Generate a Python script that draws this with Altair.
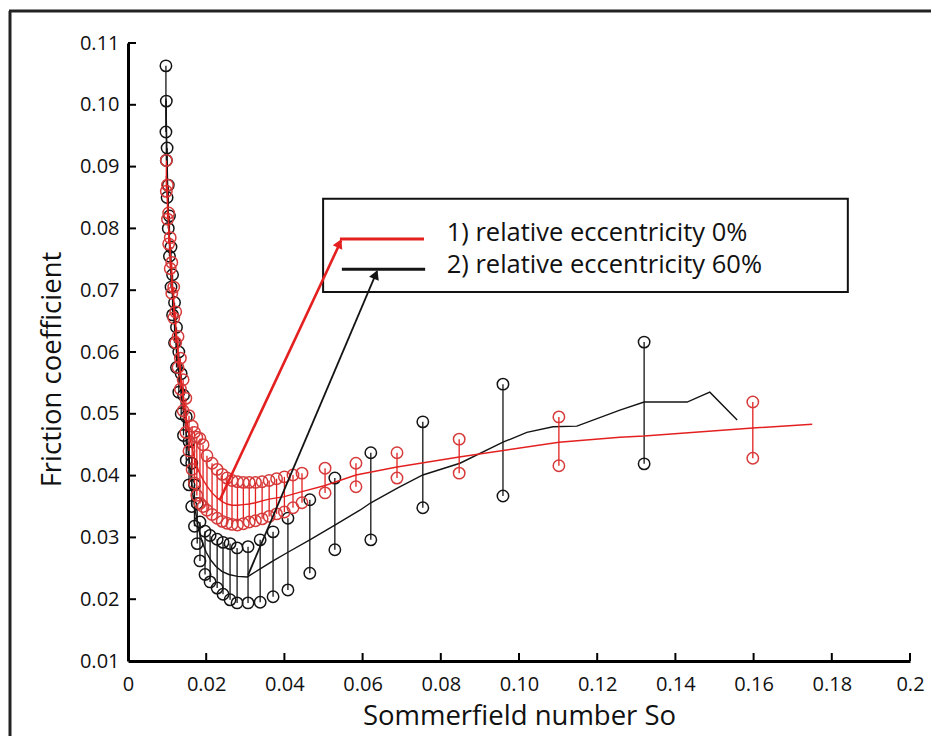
import altair as alt
import pandas as pd

# ---------------- data ----------------
# 60% eccentricity (black): error bars
b_x = [0.0097, 0.0098, 0.0100, 0.0103, 0.0106, 0.0110, 0.0114, 0.0119, 0.0124, 0.0130,
       0.0136, 0.0142, 0.0149, 0.0156, 0.0163, 0.0170, 0.0177, 0.0184, 0.0197, 0.0210,
       0.0228, 0.0243, 0.0261, 0.0279, 0.0307, 0.0338, 0.0371, 0.0409, 0.0465, 0.0529,
       0.0621, 0.0754, 0.0959, 0.1320]
b_lo = [0.0956, 0.0910, 0.0850, 0.0800, 0.0755, 0.0705, 0.0660, 0.0615, 0.0575, 0.0535,
        0.0500, 0.0465, 0.0425, 0.0385, 0.0350, 0.0318, 0.0290, 0.0262, 0.0240, 0.0228,
        0.0218, 0.0208, 0.0199, 0.0194, 0.0194, 0.0195, 0.0204, 0.0215, 0.0242, 0.0280,
        0.0296, 0.0348, 0.0367, 0.0419]
b_hi = [0.1063, 0.1006, 0.0930, 0.0870, 0.0820, 0.0770, 0.0725, 0.0680, 0.0640, 0.0600,
        0.0565, 0.0530, 0.0495, 0.0455, 0.0420, 0.0385, 0.0355, 0.0325, 0.0310, 0.0303,
        0.0297, 0.0292, 0.0290, 0.0283, 0.0285, 0.0296, 0.0309, 0.0331, 0.0361, 0.0396,
        0.0437, 0.0487, 0.0548, 0.0616]
# 60% eccentricity (black): mean curve
bl_x = [0.0097, 0.0099, 0.0101, 0.0103, 0.0106, 0.0109, 0.0113, 0.0117, 0.0122, 0.0127,
        0.0133, 0.0139, 0.0145, 0.0152, 0.0159, 0.0166, 0.0173, 0.0180, 0.0190, 0.0200,
        0.0212, 0.0225, 0.0240, 0.0258, 0.0280, 0.0305, 0.0338, 0.0371, 0.0409, 0.0465,
        0.0529, 0.0593, 0.0621, 0.0690, 0.0754, 0.0849, 0.0959, 0.1020, 0.1087, 0.1148,
        0.1258, 0.1320, 0.1430, 0.1488, 0.1558]
bl_y = [0.1010, 0.0940, 0.0880, 0.0830, 0.0780, 0.0740, 0.0700, 0.0660, 0.0620, 0.0580,
        0.0550, 0.0520, 0.0490, 0.0450, 0.0410, 0.0370, 0.0340, 0.0315, 0.0292, 0.0276,
        0.0263, 0.0253, 0.0245, 0.0240, 0.0237, 0.0236, 0.0249, 0.0262, 0.0276, 0.0296,
        0.0320, 0.0344, 0.0356, 0.0380, 0.0401, 0.0420, 0.0454, 0.0470, 0.0479, 0.0480,
        0.0506, 0.0519, 0.0519, 0.0535, 0.0490]

# 0% eccentricity (red): error bars
r_x = [0.0098, 0.0101, 0.0104, 0.0108, 0.0112, 0.0117, 0.0122, 0.0128, 0.0134, 0.0141,
       0.0148, 0.0156, 0.0164, 0.0170, 0.0176, 0.0184, 0.0192, 0.0202, 0.0215, 0.0228,
       0.0241, 0.0253, 0.0266, 0.0280, 0.0295, 0.0310, 0.0326, 0.0343, 0.0361, 0.0380,
       0.0400, 0.0422, 0.0445, 0.0504, 0.0583, 0.0688, 0.0847, 0.1102, 0.1598]
r_lo = [0.0860, 0.0815, 0.0775, 0.0735, 0.0695, 0.0655, 0.0615, 0.0575, 0.0540, 0.0505,
        0.0470, 0.0440, 0.0410, 0.0388, 0.0368, 0.0355, 0.0350, 0.0344, 0.0337, 0.0331,
        0.0326, 0.0323, 0.0321, 0.0320, 0.0322, 0.0325, 0.0327, 0.0330, 0.0334, 0.0338,
        0.0341, 0.0348, 0.0356, 0.0372, 0.0382, 0.0396, 0.0404, 0.0416, 0.0428]
r_hi = [0.0910, 0.0870, 0.0825, 0.0785, 0.0745, 0.0705, 0.0665, 0.0625, 0.0590, 0.0555,
        0.0525, 0.0497, 0.0480, 0.0470, 0.0462, 0.0460, 0.0450, 0.0432, 0.0420, 0.0410,
        0.0402, 0.0396, 0.0392, 0.0390, 0.0389, 0.0389, 0.0389, 0.0390, 0.0392, 0.0395,
        0.0398, 0.0401, 0.0404, 0.0412, 0.0420, 0.0437, 0.0459, 0.0495, 0.0519]
# 0% eccentricity (red): mean curve
rl_x = [0.0098, 0.0101, 0.0104, 0.0108, 0.0112, 0.0117, 0.0122, 0.0128, 0.0134, 0.0141,
        0.0148, 0.0156, 0.0164, 0.0170, 0.0176, 0.0184, 0.0192, 0.0202, 0.0215, 0.0228,
        0.0241, 0.0253, 0.0266, 0.0280, 0.0295, 0.0310, 0.0326, 0.0343, 0.0361, 0.0380,
        0.0400, 0.0422, 0.0445, 0.0504, 0.0583, 0.0688, 0.0847, 0.1102, 0.1258, 0.1320,
        0.1598, 0.1750]
rl_y = [0.0885, 0.0842, 0.0800, 0.0760, 0.0720, 0.0680, 0.0640, 0.0600, 0.0565, 0.0530,
        0.0498, 0.0468, 0.0445, 0.0428, 0.0414, 0.0403, 0.0393, 0.0383, 0.0372, 0.0364,
        0.0358, 0.0354, 0.0352, 0.0352, 0.0353, 0.0354, 0.0356, 0.0359, 0.0362, 0.0364,
        0.0366, 0.0370, 0.0374, 0.0384, 0.0401, 0.0414, 0.0430, 0.0454, 0.0462, 0.0464,
        0.0477, 0.0483]

x_ticks = [0, 0.02, 0.04, 0.06, 0.08, 0.10, 0.12, 0.14, 0.16, 0.18, 0.2]
x_tick_labels = ["0", "0.02", "0.04", "0.06", "0.08", "0.10", "0.12", "0.14", "0.16", "0.18", "0.2"]
y_ticks = [0.01, 0.02, 0.03, 0.04, 0.05, 0.06, 0.07, 0.08, 0.09, 0.10, 0.11]

legend_labels = ["1) relative eccentricity 0%", "2) relative eccentricity 60%"]
x_title = "Sommerfield number So"
y_title = "Friction coefficient"

# ---------------- styling ----------------
RED = "#e3201f"
RED_PT = "#d63a3a"
BLACK = "#141414"
FONT = "Open Sans"
W, H = 782, 618

xs = alt.Scale(domain=[0, 0.2], nice=False, zero=False)
ys = alt.Scale(domain=[0.01, 0.11], nice=False, zero=False)

label_expr = "[" + ",".join("'%s'" % s for s in x_tick_labels) + "][round(datum.value/0.02)]"

x_axis = alt.Axis(values=x_ticks, labelExpr=label_expr, title=x_title, grid=False,
                  ticks=False, domainWidth=3, domainColor="black", labelFont=FONT,
                  labelFontSize=20, labelColor="#111", labelPadding=13,
                  titleFont=FONT, titleFontSize=27.5, titleFontWeight="normal",
                  titleColor="#111", titlePadding=8, labelFlush=False)
y_axis = alt.Axis(values=y_ticks, format=".2f", title=y_title, grid=False,
                  ticks=False, domainWidth=3, domainColor="black", labelFont=FONT,
                  labelFontSize=20, labelColor="#111", labelPadding=9,
                  titleFont=FONT, titleFontSize=27.5, titleFontWeight="normal",
                  titleColor="#111", titlePadding=13, titleY=326, labelFlush=False)

bdf = pd.DataFrame({"x": b_x, "lo": b_lo, "hi": b_hi})
rdf = pd.DataFrame({"x": r_x, "lo": r_lo, "hi": r_hi})
bline = pd.DataFrame({"x": bl_x, "y": bl_y})
rline = pd.DataFrame({"x": rl_x, "y": rl_y})
bpts = pd.DataFrame({"x": b_x + b_x, "y": b_lo + b_hi})
rpts = pd.DataFrame({"x": r_x + r_x, "y": r_lo + r_hi})

def XF(f):
    return alt.X(f, type="quantitative", scale=xs, axis=x_axis)

def YF(f):
    return alt.Y(f, type="quantitative", scale=ys, axis=y_axis)

def XD(v):
    return alt.XDatum(v, type="quantitative", axis=x_axis)

def YD(v):
    return alt.YDatum(v, type="quantitative", axis=y_axis)

def bars(df, color):
    return alt.Chart(df).mark_rule(color=color, strokeWidth=1.3).encode(
        x=XF("x"), y=YF("lo"), y2="hi:Q")

def circles(df, color):
    return alt.Chart(df).mark_point(shape="circle", filled=False, color=color,
                                    size=130, strokeWidth=1.5, opacity=1).encode(
        x=XF("x"), y=YF("y"))

def curve(df, color, width):
    return alt.Chart(df).mark_line(color=color, strokeWidth=width).encode(
        x=XF("x"), y=YF("y"), order="x:Q")

# inward tick marks
xtick_df = pd.DataFrame({"x": x_ticks[1:]})
ytick_df = pd.DataFrame({"y": y_ticks[1:]})
xticks_layer = alt.Chart(xtick_df).mark_rule(color="black", strokeWidth=2).encode(
    x=XF("x"), y=alt.value(H), y2=alt.value(H - 8))
yticks_layer = alt.Chart(ytick_df).mark_rule(color="black", strokeWidth=2).encode(
    y=YF("y"), x=alt.value(0), x2=alt.value(8))

one = pd.DataFrame({"a": [0]})

# picture frame (left and top)
frame_left = alt.Chart(one).mark_rule(color="#222", strokeWidth=3).encode(
    x=alt.value(-118), y=alt.value(-32), y2=alt.value(700))
frame_top = alt.Chart(one).mark_rule(color="#222", strokeWidth=3).encode(
    x=alt.value(-119), x2=alt.value(W + 40), y=alt.value(-32))

# legend box
box = alt.Chart(one).mark_rect(fill="white", stroke="#111", strokeWidth=2).encode(
    x=XD(0.0499), x2=alt.datum(0.1841), y=YD(0.0848), y2=alt.datum(0.0697))
leg_red = alt.Chart(one).mark_rule(color=RED, strokeWidth=3).encode(
    x=XD(0.0542), x2=alt.datum(0.0757), y=YD(0.0783))
leg_black = alt.Chart(one).mark_rule(color=BLACK, strokeWidth=3).encode(
    x=XD(0.0547), x2=alt.datum(0.0760), y=YD(0.0734))
txt1 = alt.Chart(one).mark_text(text=legend_labels[0], align="left", baseline="middle",
                                font=FONT, fontSize=25.5, color="#111").encode(
    x=XD(0.0815), y=YD(0.0793))
txt2 = alt.Chart(one).mark_text(text=legend_labels[1], align="left", baseline="middle",
                                font=FONT, fontSize=25.5, color="#111").encode(
    x=XD(0.0815), y=YD(0.0740))

# arrows
arr_red = alt.Chart(one).mark_rule(color=RED, strokeWidth=2.6).encode(
    x=XD(0.0235), y=YD(0.0361), x2=alt.datum(0.0545), y2=alt.datum(0.0780))
arr_red_head = alt.Chart(one).mark_point(shape="triangle-up", filled=True, color=RED,
                                         size=110, angle=25, opacity=1).encode(
    x=XD(0.05407), y=YD(0.07757))
arr_blk = alt.Chart(one).mark_rule(color=BLACK, strokeWidth=1.8).encode(
    x=XD(0.0307), y=YD(0.0239), x2=alt.datum(0.0637), y2=alt.datum(0.0731))
arr_blk_head = alt.Chart(one).mark_point(shape="triangle-up", filled=True, color=BLACK,
                                         size=110, angle=23, opacity=1).encode(
    x=XD(0.06335), y=YD(0.07254))

chart = alt.layer(
    frame_left, frame_top,
    bars(bdf, BLACK), circles(bpts, BLACK), curve(bline, BLACK, 1.4),
    bars(rdf, RED), circles(rpts, RED_PT), curve(rline, RED, 1.4),
    box, leg_red, leg_black, txt1, txt2,
    arr_red, arr_red_head, arr_blk, arr_blk_head,
    xticks_layer, yticks_layer,
).properties(
    width=W, height=H,
    background="white",
    autosize=alt.AutoSizeParams(type="none"),
    padding={"left": 120, "top": 35, "right": 21, "bottom": 75},
).configure_view(stroke="transparent", strokeWidth=0)

chart.save("out.html", embed_options={"renderer": "svg", "actions": False})
